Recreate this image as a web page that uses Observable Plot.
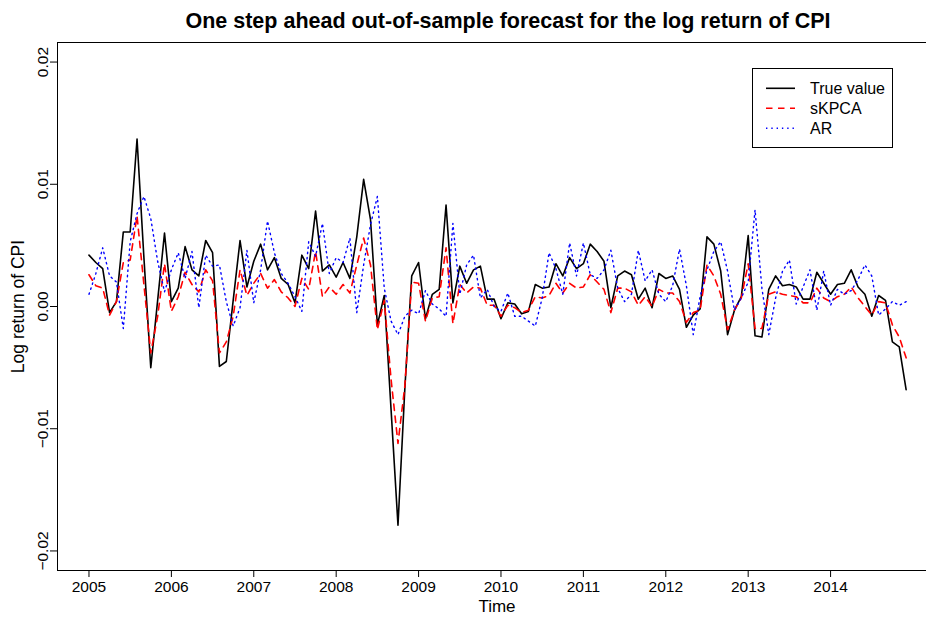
<!DOCTYPE html>
<html><head><meta charset="utf-8">
<script src="https://cdn.jsdelivr.net/npm/d3@7"></script>
<script src="https://cdn.jsdelivr.net/npm/@observablehq/plot@0.6"></script>
<style>
body{margin:0;background:#fff;}
#chart{width:926px;height:618px;}
</style>
</head><body><div id="chart"></div>
<script>
const startYear = 2005;
const titleText = "One step ahead out-of-sample forecast for the log return of CPI";
const xLabel = "Time";
const yLabel = "Log return of CPI";
const seriesNames = ["True value", "sKPCA", "AR"];
const xTicks = [2005, 2006, 2007, 2008, 2009, 2010, 2011, 2012, 2013, 2014];
const yTicks = [-0.02, -0.01, 0, 0.01, 0.02];

const trueValue = [
 0.0042,0.0036,0.0031,-0.0005,0.0004,0.0061,0.0061,0.0137,0.0040,-0.0050,0.0005,0.0060,
 0.0004,0.0015,0.0049,0.0030,0.0025,0.0054,0.0044,-0.0049,-0.0045,0.0005,0.0054,0.0016,
 0.0037,0.0051,0.0030,0.0040,0.0023,0.0018,0.0003,0.0042,0.0031,0.0078,0.0029,0.0034,
 0.0024,0.0036,0.0023,0.0057,0.0104,0.0071,-0.0015,0.0009,-0.0085,-0.0179,-0.0067,0.0025,
 0.0036,-0.0010,0.0010,0.0014,0.0083,0.0003,0.0033,0.0019,0.0030,0.0033,0.0006,0.0006,
 -0.0010,0.0003,0.0002,-0.0006,-0.0004,0.0018,0.0015,0.0016,0.0035,0.0025,0.0040,0.0031,
 0.0035,0.0051,0.0045,0.0037,-0.0001,0.0025,0.0029,0.0026,0.0006,0.0015,-0.0001,0.0027,
 0.0023,0.0025,0.0014,-0.0017,-0.0007,-0.0002,0.0057,0.0051,0.0029,-0.0023,-0.0003,0.0008,
 0.0058,-0.0024,-0.0025,0.0014,0.0025,0.0017,0.0018,0.0016,0.0006,0.0006,0.0028,0.0019,
 0.0010,0.0018,0.0019,0.0030,0.0016,0.0010,-0.0008,0.0009,0.0005,-0.0029,-0.0033,-0.0068
];
const skpca = [
 0.0026,0.0017,0.0015,-0.0007,0.0004,0.0036,0.0038,0.0074,0.0018,-0.0038,-0.0008,0.0035,
 -0.0004,0.0008,0.0028,0.0018,0.0012,0.0030,0.0021,-0.0038,-0.0029,-0.0008,0.0030,0.0009,
 0.0019,0.0027,0.0015,0.0022,0.0012,0.0007,0.0000,0.0023,0.0014,0.0045,0.0008,0.0016,
 0.0010,0.0018,0.0011,0.0034,0.0056,0.0034,-0.0019,0.0005,-0.0060,-0.0112,-0.0065,0.0020,
 0.0019,-0.0012,0.0007,0.0008,0.0048,-0.0014,0.0018,0.0011,0.0016,0.0015,0.0001,0.0001,
 -0.0008,0.0001,-0.0001,-0.0005,-0.0003,0.0008,0.0007,0.0009,0.0019,0.0011,0.0019,0.0015,
 0.0016,0.0026,0.0020,0.0014,-0.0005,0.0015,0.0015,0.0012,0.0001,0.0008,0.0000,0.0014,
 0.0011,0.0011,0.0004,-0.0013,-0.0005,-0.0003,0.0034,0.0025,0.0010,-0.0019,-0.0003,0.0007,
 0.0035,-0.0018,-0.0018,0.0010,0.0012,0.0010,0.0009,0.0008,0.0003,0.0003,0.0015,0.0007,
 0.0004,0.0008,0.0010,0.0016,0.0007,0.0000,-0.0007,0.0004,0.0003,-0.0015,-0.0025,-0.0042
];
const ar = [
 0.0010,0.0027,0.0048,0.0025,0.0020,-0.0018,0.0053,0.0076,0.0090,0.0072,0.0037,0.0012,
 0.0030,0.0044,0.0023,0.0045,-0.0001,0.0042,0.0033,0.0034,0.0004,-0.0016,-0.0001,0.0046,
 0.0003,0.0030,0.0070,0.0044,0.0027,0.0019,0.0008,-0.0004,0.0053,0.0041,0.0068,0.0027,
 0.0040,0.0036,0.0056,-0.0005,0.0034,0.0067,0.0090,0.0015,-0.0012,-0.0023,-0.0008,-0.0003,
 -0.0006,0.0013,0.0002,-0.0002,-0.0008,0.0068,0.0010,0.0034,0.0042,0.0007,0.0014,0.0000,
 -0.0004,0.0011,-0.0008,-0.0008,-0.0012,-0.0016,0.0007,0.0044,0.0031,0.0010,0.0052,0.0025,
 0.0052,0.0026,0.0023,0.0030,0.0046,0.0015,0.0004,0.0010,0.0046,0.0021,0.0030,0.0010,
 0.0004,0.0017,0.0047,0.0017,-0.0023,0.0008,0.0030,0.0045,0.0053,0.0029,-0.0003,0.0007,
 0.0020,0.0079,0.0015,-0.0023,0.0007,0.0029,0.0038,0.0002,0.0016,0.0030,-0.0003,0.0029,
 0.0001,0.0014,0.0010,0.0013,0.0022,0.0034,0.0025,-0.0007,-0.0002,0.0004,0.0001,0.0004
];

const toRows = arr => arr.map((v, i) => ({t: startYear + i / 12, v}));
const xDomain = [2004.618, 2015.164];
const yDomain = [-0.0216, 0.0216];
const font = "'Liberation Sans', Arial, Helvetica, sans-serif";
const yFmt = d3.format(".2f");

const styles = [
  {stroke: "black", strokeWidth: 1.6},
  {stroke: "#ff0000", strokeWidth: 1.6, strokeDasharray: "6.5,5.5"},
  {stroke: "#0000ff", strokeWidth: 1.4, strokeDasharray: "1.4,3.9"}
];

const plot = Plot.plot({
  width: 926, height: 618,
  marginLeft: 57, marginRight: 0, marginTop: 42, marginBottom: 48,
  x: {domain: xDomain},
  y: {domain: yDomain},
  style: {fontFamily: font, fontSize: "15px", background: "white", color: "black", overflow: "visible"},
  marks: [
    Plot.ruleY(yDomain, {stroke: "black", strokeWidth: 1}),
    Plot.ruleX([xDomain[0]], {stroke: "black", strokeWidth: 1}),
    Plot.axisX({ticks: xTicks, tickSize: 7, tickPadding: 3, tickFormat: d => String(d), label: null, fontSize: 15.5}),
    Plot.axisY({ticks: yTicks, tickSize: 7, tickPadding: 3, tickRotate: -90, tickFormat: yFmt, label: null, fontSize: 15.5}),
    Plot.line(toRows(trueValue), {x: "t", y: "v", ...styles[0]}),
    Plot.line(toRows(skpca), {x: "t", y: "v", ...styles[1]}),
    Plot.line(toRows(ar), {x: "t", y: "v", ...styles[2]}),
    Plot.text([xLabel], {frameAnchor: "bottom", dy: 41, dx: 5, fontSize: 17}),
    Plot.text([yLabel], {frameAnchor: "left", textAnchor: "middle", dx: -39, rotate: -90, fontSize: 17.5}),
    Plot.text([titleText], {frameAnchor: "top", dy: -30, dx: 16, fontSize: 21.5, fontWeight: "bold"})
  ]
});
document.getElementById("chart").appendChild(plot);

// legend
const svg = d3.select(plot);
const lg = svg.append("g").attr("font-family", font).attr("font-size", 16).attr("text-anchor", "start");
lg.append("rect").attr("x", 752.5).attr("y", 68.5).attr("width", 140).attr("height", 79)
  .attr("fill", "white").attr("stroke", "black").attr("stroke-width", 1);
seriesNames.forEach((name, k) => {
  const y = 88.3 + k * 20;
  const s = styles[k];
  lg.append("line").attr("x1", 766).attr("x2", 795).attr("y1", y).attr("y2", y)
    .attr("stroke", s.stroke).attr("stroke-width", s.strokeWidth)
    .attr("stroke-dasharray", s.strokeDasharray || null);
  lg.append("text").attr("x", 810).attr("y", y + 5.5).attr("text-anchor", "start").text(name);
});
</script>
</body></html>
